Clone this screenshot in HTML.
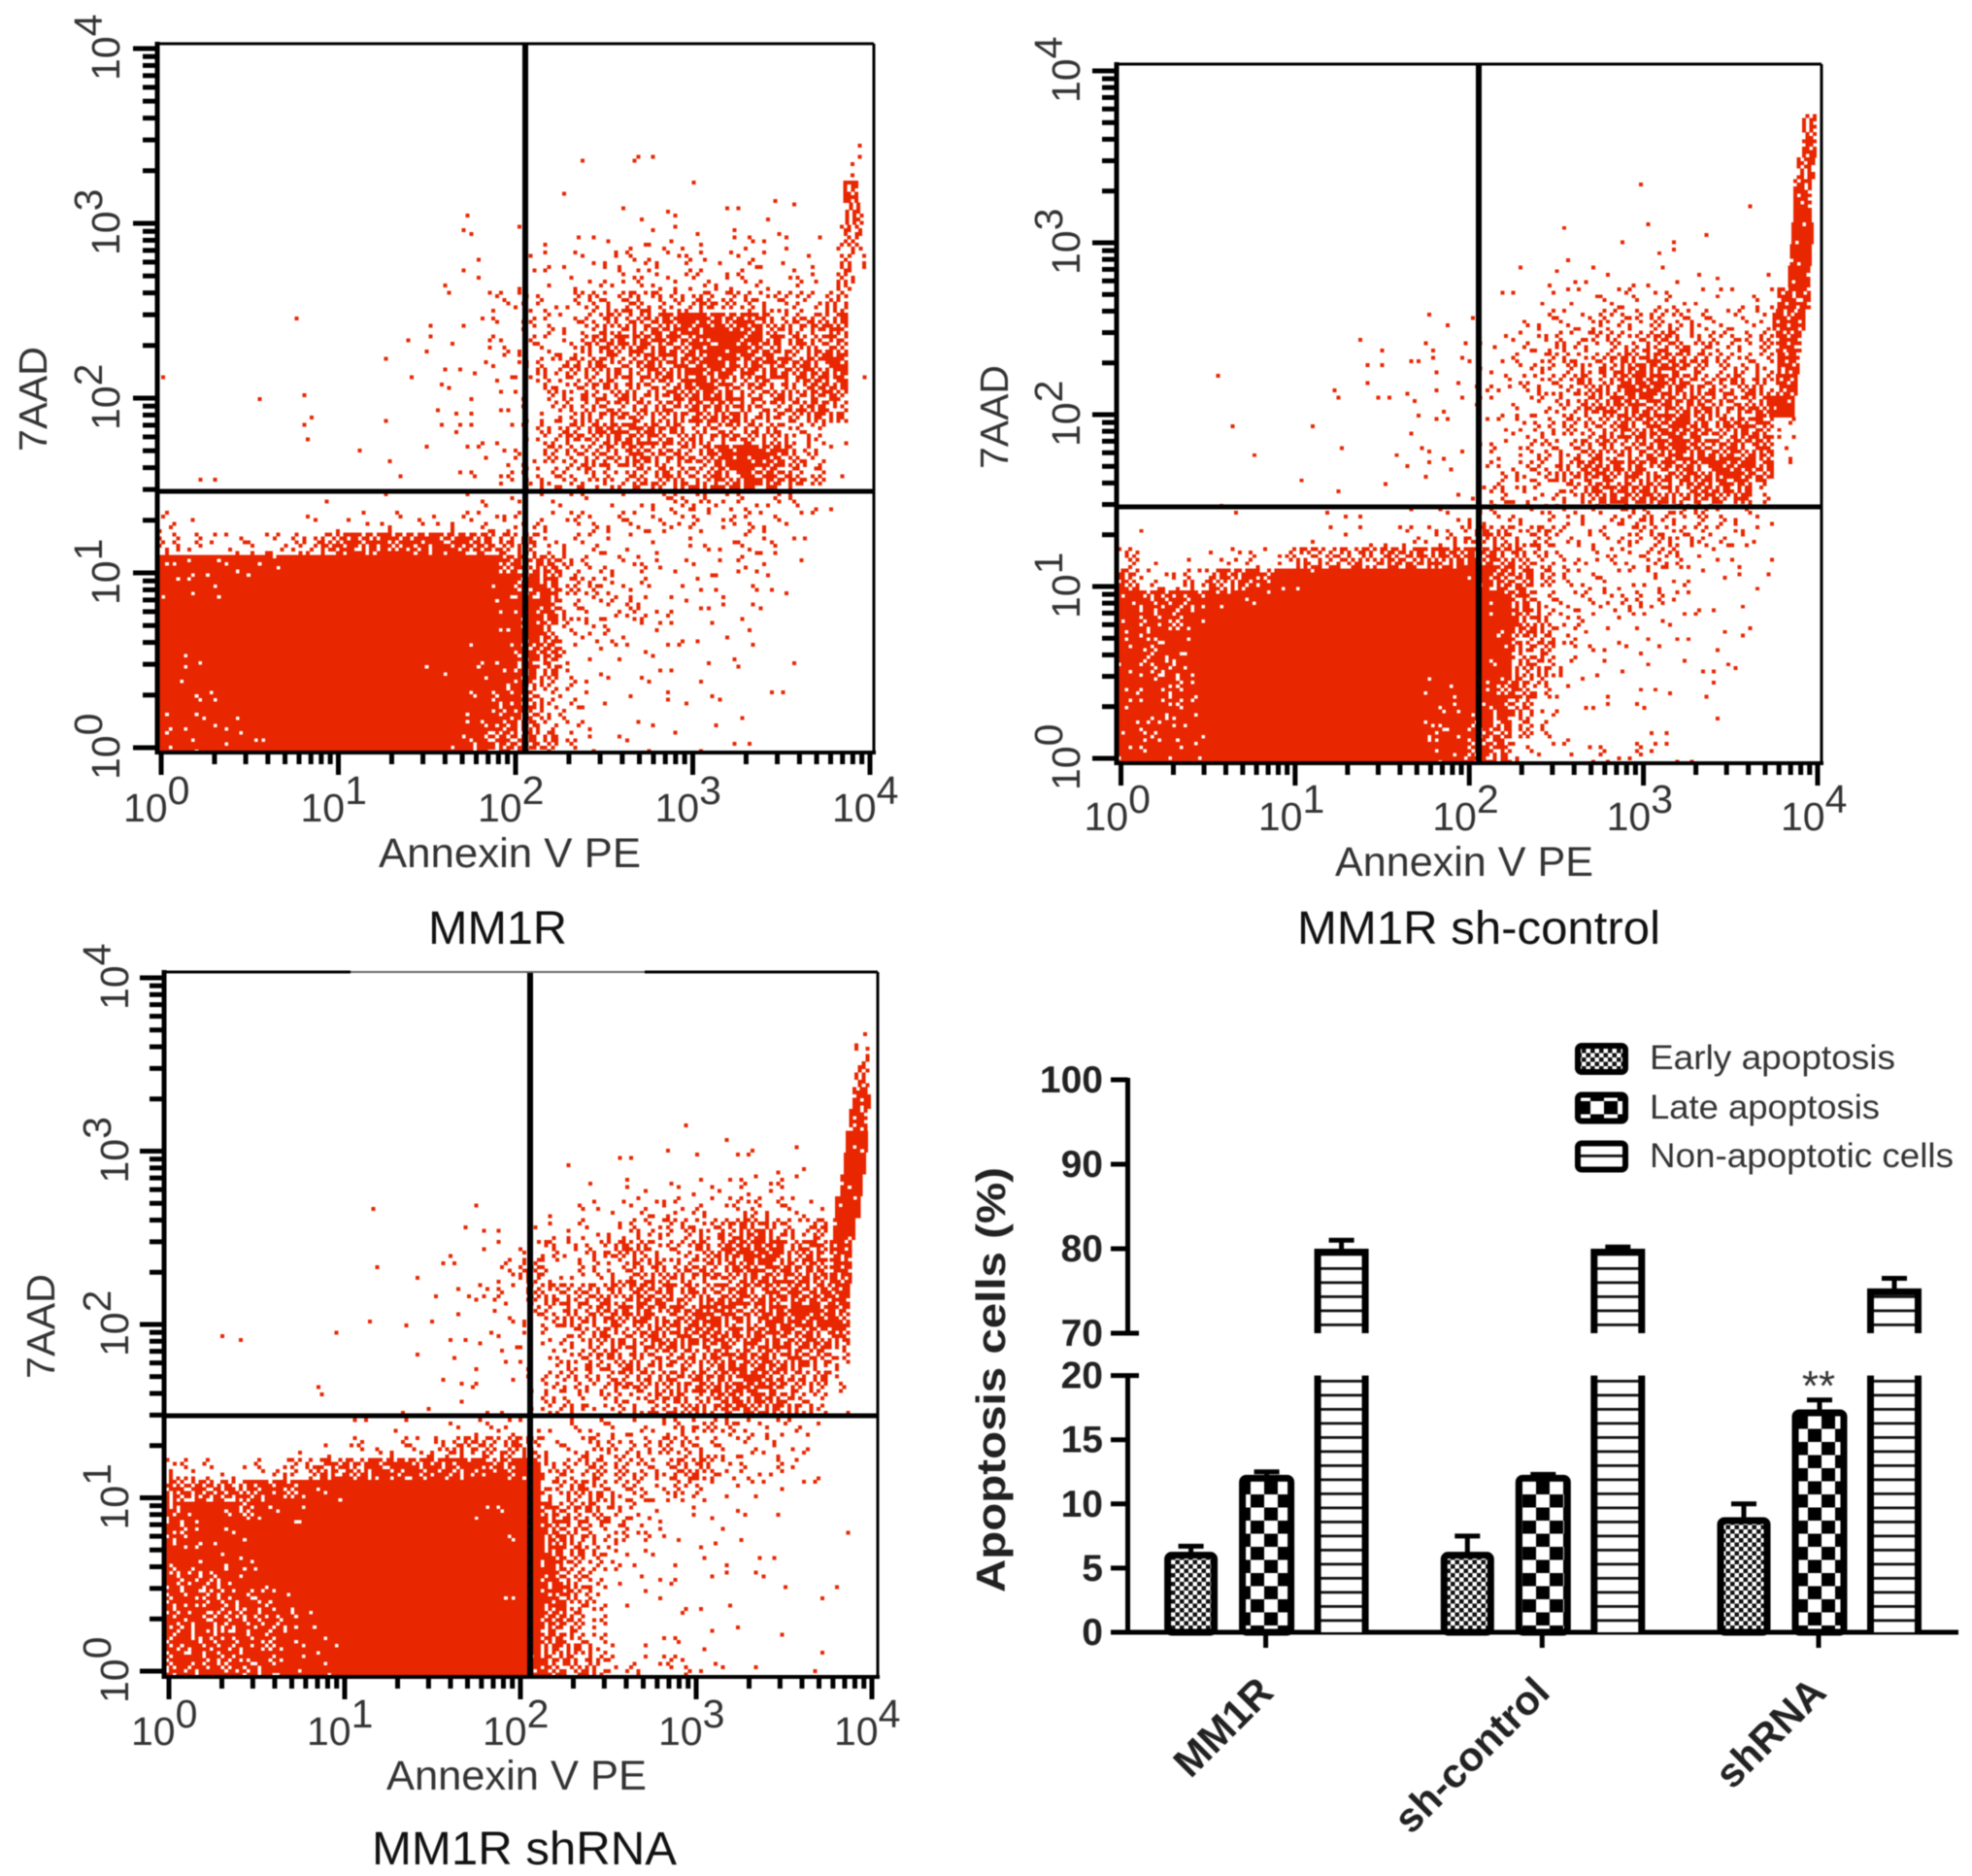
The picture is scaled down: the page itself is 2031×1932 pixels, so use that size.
<!DOCTYPE html>
<html>
<head>
<meta charset="utf-8">
<title>Apoptosis flow cytometry panels</title>
<style>
html,body{margin:0;padding:0;background:#fff;}
svg{display:block;font-family:"Liberation Sans",sans-serif;filter:blur(0.6px);}
</style>
</head>
<body>
<svg id="figure" xmlns="http://www.w3.org/2000/svg" width="2031" height="1932" viewBox="0 0 2031 1932">
  <defs>
    <pattern id="pat-early" patternUnits="userSpaceOnUse" width="9" height="9">
      <rect width="9" height="9" fill="#fff"/>
      <rect width="4.5" height="4.5" fill="#111"/>
      <rect x="4.5" y="4.5" width="4.5" height="4.5" fill="#111"/>
    </pattern>
    <pattern id="pat-late" patternUnits="userSpaceOnUse" width="28" height="27">
      <rect width="28" height="27" fill="#fff"/>
      <rect width="14" height="13.5" fill="#000"/>
      <rect x="14" y="13.5" width="14" height="13.5" fill="#000"/>
    </pattern>
    <pattern id="pat-non" patternUnits="userSpaceOnUse" width="14" height="14.5">
      <rect width="14" height="14.5" fill="#fff"/>
      <rect y="0" width="14" height="2.8" fill="#111"/>
    </pattern>
  </defs>
  <g id="layer-panels"></g>
  <g id="layer-bars"></g>
  <text x="441" y="972" font-size="48" fill="#111" textLength="143" lengthAdjust="spacingAndGlyphs">MM1R</text>
  <text x="1336" y="972" font-size="48" fill="#111" textLength="374" lengthAdjust="spacingAndGlyphs">MM1R sh-control</text>
  <text x="383" y="1920" font-size="48" fill="#111" textLength="314" lengthAdjust="spacingAndGlyphs">MM1R shRNA</text>
</svg>
<script>
/* Scatter values: event density on a 32 x 32 log-log grid
   (row 0 = top of plot, column 0 = left). 0 = empty ... 9 = solid red. */
const panel1Density = [
[0,0,0,0,0,0,0,0,0,0,0,0,0,0,0,0,0,0,0,0,0,0,0,0,0,0,0,0,0,0,0,0],
[0,0,0,0,0,0,0,0,0,0,0,0,0,0,0,0,0,0,0,0,0,0,0,0,0,0,0,0,0,0,0,0],
[0,0,0,0,0,0,0,0,0,0,0,0,0,0,0,0,0,0,0,0,0,0,0,0,0,0,0,0,0,0,0,0],
[0,0,0,0,0,0,0,0,0,0,0,0,0,0,0,0,0,0,0,0,0,0,0,0,0,0,0,0,0,0,0,0],
[0,0,0,0,0,0,0,0,0,0,0,0,0,0,0,0,0,0,0,0,0,1,1,0,0,0,0,0,0,0,0,0],
[0,0,0,0,0,0,0,0,0,0,0,0,0,0,0,0,0,0,0,1,0,1,0,0,0,0,0,0,0,0,0,0],
[0,0,0,0,0,0,0,0,0,0,0,0,0,0,0,0,0,0,1,0,0,0,0,0,1,0,0,1,0,0,0,0],
[0,0,0,0,0,0,0,0,0,0,0,0,0,1,0,0,0,0,0,0,1,1,1,1,0,1,1,1,1,0,0,0],
[0,0,0,0,0,0,0,0,0,0,0,0,0,1,1,0,1,1,1,1,1,1,2,2,2,2,2,2,1,1,0,0],
[0,0,0,0,0,0,0,0,0,0,0,0,0,0,1,0,1,2,2,2,3,3,3,3,2,2,3,2,2,2,0,0],
[0,0,0,0,0,0,0,0,0,0,0,0,1,1,1,0,2,2,2,2,3,3,3,3,3,3,3,2,3,2,0,0],
[0,0,0,0,0,0,0,0,0,0,0,0,0,1,1,3,3,3,3,4,4,5,4,4,5,4,4,4,4,3,5,0],
[0,0,0,0,0,0,1,0,0,0,0,0,1,1,1,2,3,3,3,4,5,5,6,7,7,7,7,5,5,5,6,0],
[0,0,0,0,0,0,0,0,0,0,0,1,2,1,2,3,3,3,3,5,6,6,6,6,7,8,7,6,5,5,6,0],
[1,0,0,0,0,0,0,0,0,0,1,1,1,1,2,2,3,4,5,5,5,5,6,6,7,7,6,6,6,6,7,1],
[0,0,0,0,1,0,1,0,0,0,0,0,1,1,1,2,2,4,4,5,5,5,5,6,7,6,5,5,5,6,6,0],
[0,0,0,0,0,0,1,0,0,0,1,0,1,1,1,2,2,3,4,5,5,5,5,5,6,6,5,5,5,6,5,0],
[0,0,0,0,0,0,2,0,0,0,0,0,1,2,2,2,2,4,5,5,6,6,6,5,5,5,5,5,4,4,1,0],
[0,0,0,0,0,0,0,0,0,1,1,0,1,1,2,2,3,4,4,5,5,6,5,5,5,7,8,7,5,4,1,0],
[0,1,1,0,0,0,0,0,0,0,1,0,0,1,2,3,3,4,4,4,4,5,5,5,5,6,7,6,5,4,1,0],
[0,0,0,0,0,0,0,1,0,0,1,0,0,1,2,1,1,2,2,2,2,2,3,4,4,3,3,3,3,1,1,0],
[3,1,0,0,0,0,1,1,2,2,3,2,2,3,3,3,3,3,3,3,3,3,3,3,3,3,3,3,2,1,0,0],
[4,3,2,3,3,3,4,5,7,6,7,7,7,7,6,5,5,3,3,3,2,2,2,2,2,2,3,3,1,1,0,0],
[8,8,8,8,8,8,9,9,9,9,9,9,9,9,9,7,6,6,4,3,3,3,2,2,2,2,3,2,1,0,0,0],
[8,8,8,9,9,9,9,9,9,9,9,9,9,9,9,8,7,7,4,4,3,3,1,2,2,2,2,1,1,0,0,0],
[9,9,9,9,9,9,9,9,9,9,9,9,9,9,9,8,8,7,4,3,3,4,2,2,2,1,2,1,0,0,0,0],
[9,9,9,9,9,9,9,9,9,9,9,9,9,9,9,8,8,6,3,3,3,1,2,2,2,1,1,0,0,0,0,0],
[9,8,9,9,9,9,9,9,9,9,9,9,9,9,8,8,7,6,3,2,2,2,2,1,1,1,1,0,1,0,0,0],
[9,8,9,9,9,9,9,9,9,9,9,9,8,9,8,8,7,5,3,2,1,1,2,1,1,0,1,0,0,0,0,0],
[9,8,8,9,9,9,9,9,9,9,9,9,9,9,8,7,7,4,3,2,1,1,2,1,1,1,0,1,1,0,0,0],
[8,8,8,8,9,9,9,9,9,9,9,9,9,8,8,7,6,4,3,2,0,1,1,0,0,1,1,0,0,0,0,0],
[8,8,9,8,8,9,9,9,9,9,9,9,9,8,7,6,6,5,3,2,1,1,1,1,1,1,1,0,0,0,0,0]
];
const panel2Density = [
[0,0,0,0,0,0,0,0,0,0,0,0,0,0,0,0,0,0,0,0,0,0,0,0,0,0,0,0,0,0,0,0],
[0,0,0,0,0,0,0,0,0,0,0,0,0,0,0,0,0,0,0,0,0,0,0,0,0,0,0,0,0,0,0,0],
[0,0,0,0,0,0,0,0,0,0,0,0,0,0,0,0,0,0,0,0,0,0,0,0,0,0,0,0,0,0,0,0],
[0,0,0,0,0,0,0,0,0,0,0,0,0,0,0,0,0,0,0,0,0,0,0,0,0,0,0,0,0,0,0,0],
[0,0,0,0,0,0,0,0,0,0,0,0,0,0,0,0,0,0,0,0,0,0,0,0,0,0,0,0,0,0,0,0],
[0,0,0,0,0,0,0,0,0,0,0,0,0,0,0,0,0,0,0,0,0,0,0,1,0,0,0,0,0,0,0,0],
[0,0,0,0,0,0,0,0,0,0,0,0,0,0,0,0,0,0,0,0,0,0,0,0,0,0,0,0,1,0,0,0],
[0,0,0,0,0,0,0,0,0,0,0,0,0,0,0,0,0,0,0,0,1,0,0,1,1,1,1,0,0,0,0,0],
[0,0,0,0,0,0,0,0,0,0,0,0,0,0,0,0,0,0,0,0,1,0,0,0,1,1,0,0,0,0,0,0],
[0,0,0,0,0,0,0,0,0,0,0,0,0,0,0,0,0,0,1,1,2,2,1,1,2,1,1,1,0,1,0,0],
[0,0,0,0,0,0,0,0,0,0,0,0,0,0,0,0,0,1,1,2,2,2,3,3,2,3,2,2,2,3,0,0],
[0,0,0,0,0,0,0,0,0,0,0,0,0,0,1,1,1,0,2,3,3,3,4,4,4,4,4,3,3,3,0,0],
[0,0,0,0,0,0,0,0,0,0,0,1,1,0,2,1,1,2,3,3,4,4,4,4,5,5,4,4,4,4,0,0],
[0,0,0,0,0,0,0,0,0,0,0,1,1,2,2,1,2,2,3,4,4,4,5,6,6,6,5,4,4,4,0,0],
[0,0,0,0,1,0,0,0,0,1,0,1,0,1,1,1,2,3,3,4,4,5,5,7,7,6,5,5,5,5,0,0],
[0,0,0,0,0,0,0,0,0,0,1,1,1,2,1,1,2,2,3,3,4,5,6,6,6,6,6,5,5,6,0,0],
[0,0,0,0,0,1,0,0,1,0,0,0,0,1,1,1,1,2,3,4,4,4,5,6,6,7,6,5,6,6,3,0],
[0,0,0,0,0,0,1,0,0,0,1,0,1,1,2,1,1,3,3,4,4,5,5,5,6,7,6,6,6,6,2,0],
[0,0,0,0,0,0,0,0,1,0,0,0,0,1,2,1,1,3,4,4,5,6,6,6,5,6,6,7,7,6,1,0],
[0,0,0,0,0,0,0,0,0,0,1,0,1,0,0,1,2,4,3,3,4,5,6,6,6,5,6,6,6,3,0,0],
[0,0,0,0,1,1,0,0,0,1,1,1,0,1,1,2,3,3,3,3,3,3,3,4,4,4,4,3,3,2,0,0],
[0,1,0,0,0,0,0,0,1,1,1,2,2,3,3,4,5,5,4,5,3,3,3,4,4,4,4,3,3,2,0,0],
[4,1,0,1,2,3,3,3,5,5,5,5,6,6,6,6,7,6,5,4,3,3,3,3,4,4,2,2,2,1,0,0],
[6,3,3,4,6,6,7,8,8,9,9,9,9,9,9,9,8,6,6,4,3,3,3,2,3,2,2,1,1,2,0,0],
[8,7,7,7,8,8,8,9,9,9,9,9,9,9,9,9,9,8,6,4,3,3,3,4,3,2,2,1,1,0,0,0],
[8,7,7,8,9,9,9,9,9,9,9,9,9,9,9,9,9,8,6,5,3,3,2,2,2,2,1,1,1,0,0,0],
[8,7,8,8,9,9,9,9,9,9,9,9,9,9,9,9,9,8,5,5,3,2,2,2,2,1,1,1,1,0,0,0],
[8,7,7,8,9,9,9,9,9,9,9,9,9,9,9,9,9,8,5,5,3,1,1,1,1,1,1,2,1,0,0,0],
[8,8,7,8,9,9,9,9,9,9,9,9,9,9,8,8,8,7,6,4,2,1,1,1,1,1,1,1,0,0,0,0],
[8,8,7,8,9,9,9,9,9,9,9,9,9,9,8,8,8,7,5,2,1,2,1,1,1,0,0,1,0,0,0,0],
[8,7,8,8,9,9,9,9,9,9,9,9,9,9,7,8,7,6,4,3,1,0,0,0,1,1,0,0,0,0,0,0],
[8,8,8,8,9,9,9,9,9,9,9,9,9,9,8,8,7,6,3,2,2,2,3,3,2,2,1,0,0,0,0,0]
];
const panel3Density = [
[0,0,0,0,0,0,0,0,0,0,0,0,0,0,0,0,0,0,0,0,0,0,0,0,0,0,0,0,0,0,0,0],
[0,0,0,0,0,0,0,0,0,0,0,0,0,0,0,0,0,0,0,0,0,0,0,0,0,0,0,0,0,0,0,0],
[0,0,0,0,0,0,0,0,0,0,0,0,0,0,0,0,0,0,0,0,0,0,0,0,0,0,0,0,0,0,0,0],
[0,0,0,0,0,0,0,0,0,0,0,0,0,0,0,0,0,0,0,0,0,0,0,0,0,0,0,0,0,0,0,0],
[0,0,0,0,0,0,0,0,0,0,0,0,0,0,0,0,0,0,0,0,0,0,0,0,0,0,0,0,0,0,0,0],
[0,0,0,0,0,0,0,0,0,0,0,0,0,0,0,0,0,0,0,0,0,0,0,0,0,0,0,0,0,0,0,0],
[0,0,0,0,0,0,0,0,0,0,0,0,0,0,0,0,0,0,0,0,0,0,0,1,0,0,0,0,0,0,0,0],
[0,0,0,0,0,0,0,0,0,0,0,0,0,0,0,0,0,0,0,0,0,0,1,0,0,1,1,0,1,0,0,0],
[0,0,0,0,0,0,0,0,0,0,0,0,0,0,0,0,0,0,1,0,1,1,0,0,1,1,1,1,1,0,0,0],
[0,0,0,0,0,0,0,0,0,0,0,0,0,0,0,0,0,0,0,1,2,1,1,2,2,2,3,3,1,0,0,0],
[0,0,0,0,0,0,0,0,0,1,0,0,0,0,1,0,0,1,2,2,2,3,3,3,3,3,4,3,3,2,0,0],
[0,0,0,0,0,0,0,0,0,0,0,0,0,1,1,1,1,2,3,2,3,4,4,4,4,5,6,5,4,5,0,0],
[0,0,0,0,0,0,0,0,0,0,0,0,1,0,1,2,3,4,3,4,5,5,4,4,5,6,7,7,5,6,0,0],
[0,0,0,0,0,0,0,0,0,1,0,1,1,1,0,3,5,3,3,3,4,5,5,5,5,5,6,6,6,6,0,0],
[0,0,0,0,0,0,0,0,0,0,0,0,1,2,3,3,4,5,5,5,5,6,6,5,5,6,6,6,6,6,7,0],
[0,0,0,0,0,0,0,0,0,1,1,0,1,1,1,2,3,4,5,5,6,6,5,6,7,6,5,7,7,7,7,0],
[0,0,1,1,0,0,0,1,0,0,0,0,1,1,2,2,2,3,4,5,5,5,6,6,6,6,6,6,6,6,6,0],
[0,0,0,0,0,0,0,0,0,0,0,1,0,1,1,2,2,3,4,5,5,5,5,5,5,6,6,6,6,5,4,0],
[0,0,0,0,0,0,1,0,0,0,0,0,1,2,1,1,2,4,4,4,5,5,5,5,6,6,7,6,5,5,3,0],
[0,0,0,0,0,0,0,1,0,0,1,1,0,1,1,1,1,4,4,3,4,4,5,5,5,6,6,6,5,4,1,0],
[0,0,0,0,0,0,0,0,1,1,2,1,2,2,3,3,2,2,3,3,3,3,3,4,4,4,3,3,3,2,0,0],
[0,0,0,0,0,0,1,2,3,2,3,3,4,5,5,5,5,3,3,4,4,4,4,4,4,3,3,3,2,1,0,0],
[4,3,2,2,3,4,4,6,6,7,7,7,7,7,7,7,8,4,4,5,4,4,4,5,5,3,3,3,2,1,0,0],
[6,6,6,6,7,7,8,8,9,9,9,9,9,9,9,9,9,4,5,5,4,4,3,4,3,2,2,2,1,1,0,0],
[7,8,8,7,8,8,8,9,9,9,9,9,9,9,8,8,9,6,5,5,4,3,2,2,1,1,1,1,0,0,0,0],
[7,8,8,8,9,9,9,9,9,9,9,9,9,9,9,8,9,6,5,4,4,3,2,1,1,1,1,0,0,0,1,0],
[8,8,8,8,9,9,9,9,9,9,9,9,9,9,9,9,9,7,5,4,3,2,1,1,2,1,1,1,0,0,0,0],
[7,7,7,8,8,9,9,9,9,9,9,9,9,9,9,9,9,7,5,4,2,1,2,1,1,1,1,1,1,0,1,0],
[7,7,7,7,7,8,9,9,9,9,9,9,9,9,9,8,9,7,5,4,1,1,1,1,1,1,0,0,0,1,0,0],
[7,7,6,7,7,7,8,9,9,9,9,9,9,9,9,9,9,6,5,3,0,0,0,1,1,1,0,0,0,0,0,0],
[7,7,7,7,7,8,8,8,9,9,9,9,9,9,9,9,9,6,5,4,1,1,1,2,1,0,0,1,0,1,0,0],
[7,7,7,7,7,8,8,8,9,9,9,9,9,9,9,9,8,6,5,5,3,3,3,3,2,1,1,0,0,1,0,0]
];

/* High-fluorescence tail at the right edge, one entry per grid row:
   row index, left and right edge (decades of Annexin V), density level. */
const panel1TailRows = [2, 3, 4, 5, 6, 7, 8, 9, 10];
const panel1TailStart = [3.89, 3.90, 3.89, 3.87, 3.85, 3.86, 3.83, 3.81, 3.81];
const panel1TailEnd = [3.94, 3.97, 3.97, 3.96, 3.94, 3.96, 3.96, 3.98, 3.92];
const panel1TailLevel = [1, 2, 2, 2, 7, 6, 5, 4, 5];

const panel2TailRows = [2, 3, 4, 5, 6, 7, 8, 9, 10, 11, 12, 13, 14, 15];
const panel2TailStart = [3.91, 3.91, 3.88, 3.86, 3.86, 3.85, 3.84, 3.83, 3.77, 3.74, 3.76, 3.77, 3.76, 3.72];
const panel2TailEnd = [3.99, 4.0, 3.99, 3.97, 3.97, 3.97, 3.96, 3.95, 3.95, 3.93, 3.91, 3.90, 3.88, 3.87];
const panel2TailLevel = [6, 7, 6, 7, 8, 8, 8, 8, 7, 7, 7, 7, 7, 8];

const panel3TailRows = [2, 3, 4, 5, 6, 7, 8, 9, 10, 11, 12, 13];
const panel3TailStart = [3.95, 3.90, 3.90, 3.89, 3.87, 3.85, 3.84, 3.82, 3.79, 3.78, 3.76, 3.76];
const panel3TailEnd = [3.99, 3.99, 3.99, 3.99, 3.98, 3.97, 3.96, 3.95, 3.93, 3.90, 3.89, 3.88];
const panel3TailLevel = [1, 4, 6, 7, 7, 8, 9, 8, 8, 8, 7, 7];

const decadeTicks = [0, 1, 2, 3, 4];
const minorMultipliers = [2, 3, 4, 5, 6, 7, 8, 9];

/* Bar chart values */
const barCategories = ['MM1R', 'sh-control', 'shRNA'];
const earlyValues = [6, 6, 8.7];
const earlyErrors = [6.7, 7.5, 10];
const lateValues = [12, 12, 17.1];
const lateErrors = [12.5, 12.3, 18.1];
const nonValues = [79.6, 79.6, 74.9];
const nonErrors = [81, 80.2, 76.5];
const lowerTicks = [0, 5, 10, 15, 20];
const upperTicks = [70, 80, 90, 100];
const legendLabels = ['Early apoptosis', 'Late apoptosis', 'Non-apoptotic cells'];

const RED = '#e82600';
const TEXT = '#333';
const NS = 'http://www.w3.org/2000/svg';
const dotsPerLevel = [0, 1, 2, 5, 10, 16, 22, 28, 34, 36];
const ditherOrder = [14,3,28,21,8,33,0,17,25,10,31,5,19,35,12,27,2,22,7,30,15,34,9,24,1,20,29,6,13,32,18,4,26,11,23,16];

function make(tag, attrs, parent) {
  const el = document.createElementNS(NS, tag);
  for (const k in attrs) el.setAttribute(k, attrs[k]);
  parent.appendChild(el);
  return el;
}

const panels = [
  {id:'mm1r', density:panel1Density, tailRows:panel1TailRows, tailStart:panel1TailStart, tailEnd:panel1TailEnd, tailLevel:panel1TailLevel,
   L:163, R:900, T:45, B:775, x0:166, x4:896, y0:770, y4:50, gx:541, gy:506,
   xTitle:[390,893,270], yTitle:[48,465,108], lblX:-39, lblB:846, lblYx:123, faintTop:false},
  {id:'sh-control', density:panel2Density, tailRows:panel2TailRows, tailStart:panel2TailStart, tailEnd:panel2TailEnd, tailLevel:panel2TailLevel,
   L:1151, R:1876, T:66, B:786, x0:1154.5, x4:1872, y0:781, y4:73, gx:1523, gy:522,
   xTitle:[1375,902,266], yTitle:[1038,483,107], lblX:-38, lblB:855, lblYx:1112, faintTop:false},
  {id:'shrna', density:panel3Density, tailRows:panel3TailRows, tailStart:panel3TailStart, tailEnd:panel3TailEnd, tailLevel:panel3TailLevel,
   L:170, R:904, T:1001, B:1727, x0:174, x4:898, y0:1721, y4:1007, gx:546, gy:1458,
   xTitle:[398,1843,268], yTitle:[56,1420,108], lblX:-39, lblB:1797, lblYx:132, faintTop:true}
];

function drawPanel(p, idx) {
  const root = document.getElementById('layer-panels');
  const g = make('g', {}, root);
  
  

  const xScale = d => p.x0 + (d / 4) * (p.x4 - p.x0);
  const yScale = d => p.y0 + (d / 4) * (p.y4 - p.y0);

  const clipId = 'clip-' + p.id;
  const defs = make('clipPath', {id: clipId}, g);
  make('rect', {x: p.L, y: p.T, width: p.R - p.L, height: p.B - p.T}, defs);

  const scatter = make('g', {'clip-path': 'url(#' + clipId + ')', fill: RED, 'shape-rendering': 'crispEdges'}, g);
  
  

  const rows = p.density.length, cols = p.density[0].length;
  const xMin = -0.02, yMin = -0.03;
  const cw = (4 - xMin) / cols, ch = (4 - yMin) / rows;
  const sub = 6;
  const binPath = (sx, sy, bw, bh) => 'M' + sx.toFixed(1) + ' ' + sy.toFixed(1) + 'h' + (bw + .2).toFixed(2) + 'v' + (bh + .2).toFixed(2) + 'h-' + (bw + .2).toFixed(2) + 'z';
  p.density.forEach((row, r) => {
    row.forEach((level, c) => {
      if (level <= 0) return;
      const left = xScale(xMin + c * cw);
      const right = xScale(xMin + (c + 1) * cw);
      const bottom = yScale(yMin + (rows - 1 - r) * ch);
      const top = yScale(yMin + (rows - r) * ch);
      const bw = (right - left) / sub, bh = (bottom - top) / sub;
      const count = dotsPerLevel[Math.min(9, Math.round(level))];
      const start = (c * 5 + r * 11 + idx * 7) % 36;
      let d = '';
      for (let i = 0; i < count; i++) {
        const cell = ditherOrder[(start + i) % 36];
        d += binPath(left + (cell % sub) * bw, top + Math.floor(cell / sub) * bh, bw, bh);
      }
      const cellPath = make('path', {d: d}, scatter);
      
      
    });
  });

  // right-edge tail of high-fluorescence events
  p.tailRows.forEach((r, i) => {
    const bw = ((p.x4 - p.x0) / 4 * cw) / sub;
    const top = yScale(yMin + (rows - r) * ch);
    const bottom = yScale(yMin + (rows - 1 - r) * ch);
    const bh = (bottom - top) / sub;
    const left = xScale(p.tailStart[i]);
    const n = Math.max(1, Math.round((xScale(p.tailEnd[i]) - left) / bw));
    const limit = dotsPerLevel[p.tailLevel[i]];
    let d = '';
    for (let sy = 0; sy < sub; sy++) {
      for (let sx = 0; sx < n; sx++) {
        const order = ditherOrder[(sy * 6 + (sx % 6) + r * 7 + idx * 5) % 36];
        if (order < limit) d += binPath(left + sx * bw, top + sy * bh, bw, bh);
      }
    }
    const tailPath = make('path', {d: d}, scatter);
    
    
  });

  // gates
  const vGate = make('line', {x1: p.gx, x2: p.gx, y1: p.T, y2: p.B, stroke: '#000', 'stroke-width': 6}, g);
  
  
  const hGate = make('line', {x1: p.L, x2: p.R, y1: p.gy, y2: p.gy, stroke: '#000', 'stroke-width': 5}, g);
  
  

  // frame
  const frame = make('g', {stroke: '#000', fill: 'none'}, g);
  
  
  if (p.faintTop) {
    make('line', {x1: p.L, x2: 361, y1: p.T, y2: p.T, 'stroke-width': 3}, frame);
    make('line', {x1: 361, x2: 664, y1: p.T, y2: p.T, 'stroke-width': 2, stroke: '#666'}, frame);
    make('line', {x1: 664, x2: p.R, y1: p.T, y2: p.T, 'stroke-width': 3}, frame);
  } else {
    make('line', {x1: p.L, x2: p.R, y1: p.T, y2: p.T, 'stroke-width': 3}, frame);
  }
  make('line', {x1: p.R, x2: p.R, y1: p.T, y2: p.B, 'stroke-width': 3}, frame);
  make('line', {x1: p.L - 1, x2: p.L - 1, y1: p.T - 2, y2: p.B + 2, 'stroke-width': 5}, frame);
  make('line', {x1: p.L - 3, x2: p.R + 2, y1: p.B, y2: p.B, 'stroke-width': 4}, frame);

  // ticks
  const xAxis = make('g', {stroke: '#000', 'stroke-width': 5}, g);
  
  
  const yAxis = make('g', {stroke: '#000', 'stroke-width': 5}, g);
  
  
  decadeTicks.forEach(d => {
    make('line', {x1: xScale(d), x2: xScale(d), y1: p.B, y2: p.B + 23}, xAxis);
    make('line', {x1: p.L - 2, x2: p.L - 26, y1: yScale(d), y2: yScale(d)}, yAxis);
    if (d < 4) {
      minorMultipliers.forEach(m => {
        const v = d + Math.log10(m);
        make('line', {x1: xScale(v), x2: xScale(v), y1: p.B, y2: p.B + 12}, xAxis);
        make('line', {x1: p.L - 2, x2: p.L - 16, y1: yScale(v), y2: yScale(v)}, yAxis);
      });
    }
  });

  // tick labels
  decadeTicks.forEach(d => {
    const tx = make('text', {x: xScale(d) + p.lblX, y: p.lblB, 'font-size': 41, fill: TEXT}, g);
    
    
    tx.textContent = '10';
    const sx = make('tspan', {dy: -18}, tx);
    sx.textContent = String(d);

    const ty = make('text', {transform: 'translate(' + p.lblYx + ' ' + (yScale(d) + 33) + ') rotate(-90)', 'font-size': 41, fill: TEXT}, g);
    
    
    ty.textContent = '10';
    const sy = make('tspan', {dy: -18}, ty);
    sy.textContent = String(d);
  });

  // titles
  const xt = make('text', {x: p.xTitle[0], y: p.xTitle[1], 'font-size': 43, fill: TEXT, textLength: p.xTitle[2], lengthAdjust: 'spacingAndGlyphs'}, g);
  
  
  xt.textContent = 'Annexin V PE';
  const yt = make('text', {transform: 'translate(' + p.yTitle[0] + ' ' + p.yTitle[1] + ') rotate(-90)', 'font-size': 41, fill: TEXT, textLength: p.yTitle[2], lengthAdjust: 'spacingAndGlyphs'}, g);
  
  
  yt.textContent = '7AAD';
}
panels.forEach(drawPanel);

/* ---- bar chart ---- */
(function () {
  const root = document.getElementById('layer-bars');
  const AX = 1161.5, Y0 = 1681, Y20 = 1416.6, Y70 = 1373, Y100 = 1112;
  const yBar = v => v <= 20 ? Y0 + (v / 20) * (Y20 - Y0) : Y70 + ((v - 70) / 30) * (Y100 - Y70);
  const groupCenter = i => 1303.6 + i * 284.7;
  const barOffset = {early: -77, late: 1, non: 78};
  const barWidth = {early: 48, late: 50, non: 49};

  const axes = make('g', {stroke: '#000', 'stroke-width': 5, fill: 'none'}, root);
  
  
  make('line', {x1: AX, x2: AX, y1: yBar(100) - 2, y2: yBar(70)}, axes);
  make('line', {x1: AX, x2: AX, y1: yBar(20), y2: yBar(0)}, axes);
  make('line', {x1: 1144, x2: 2017, y1: yBar(0), y2: yBar(0)}, axes);

  const allTicks = lowerTicks.concat(upperTicks);
  allTicks.forEach(v => {
    const stub = (v === 70 || v === 20) ? 1173 : AX;
    make('line', {x1: 1144, x2: stub, y1: yBar(v), y2: yBar(v)}, axes);
    const label = make('text', {x: 1136, y: yBar(v) + 13, 'font-size': 39, 'font-weight': 'bold', fill: '#222', 'text-anchor': 'end'}, root);
    
    
    label.textContent = String(v);
  });

  function drawBar(cx, v, err, pat, name, w) {
    const g = make('g', {stroke: '#000', 'stroke-width': 7}, root);
    
    
    const errLine = make('line', {x1: cx, x2: cx, y1: yBar(v), y2: yBar(err), 'stroke-width': 5}, g);
    
    
    const errCap = make('line', {x1: cx - 13, x2: cx + 13, y1: yBar(err), y2: yBar(err), 'stroke-width': 5}, g);
    
    
    if (v <= 20) {
      make('rect', {x: cx - w / 2, y: yBar(v), width: w, height: yBar(0) - yBar(v), fill: 'url(#' + pat + ')', rx: 4}, g);
    } else {
      make('rect', {x: cx - w / 2, y: yBar(20), width: w, height: yBar(0) - yBar(20), fill: 'url(#' + pat + ')', stroke: 'none'}, g);
      make('path', {d: 'M' + (cx - w / 2) + ' ' + yBar(20) + 'V' + yBar(0) + 'M' + (cx + w / 2) + ' ' + yBar(20) + 'V' + yBar(0), fill: 'none'}, g);
      make('rect', {x: cx - w / 2, y: yBar(v), width: w, height: yBar(70) - yBar(v), fill: 'url(#' + pat + ')', stroke: 'none'}, g);
      make('path', {d: 'M' + (cx - w / 2) + ' ' + yBar(70) + 'V' + yBar(v) + 'H' + (cx + w / 2) + 'V' + yBar(70), fill: 'none'}, g);
    }
  }

  barCategories.forEach((cat, i) => {
    const c = groupCenter(i);
    drawBar(c + barOffset.early, earlyValues[i], earlyErrors[i], 'pat-early', 'bar-early-' + cat, barWidth.early);
    drawBar(c + barOffset.late, lateValues[i], lateErrors[i], 'pat-late', 'bar-late-' + cat, barWidth.late);
    drawBar(c + barOffset.non, nonValues[i], nonErrors[i], 'pat-non', 'bar-non-' + cat, barWidth.non);

    const tick = make('line', {x1: c, x2: c, y1: yBar(0), y2: yBar(0) + 16, stroke: '#000', 'stroke-width': 5}, root);
    
    

    const lab = make('text', {transform: 'translate(' + (c + 10) + ' 1745) rotate(-45)', 'font-size': 42, 'font-weight': 'bold', fill: '#222', 'text-anchor': 'end'}, root);
    
    
    lab.textContent = cat;
  });

  const star = make('text', {x: groupCenter(2), y: 1442, 'font-size': 44, fill: TEXT, 'text-anchor': 'middle'}, root);
  
  
  star.textContent = '**';

  const yTitle = make('text', {transform: 'translate(1035 1640) rotate(-90)', 'font-size': 42, 'font-weight': 'bold', fill: '#222', textLength: 438, lengthAdjust: 'spacingAndGlyphs'}, root);
  
  
  yTitle.textContent = 'Apoptosis cells (%)';

  const swatchY = [1075, 1125.5, 1175.5];
  const swatchPat = ['pat-early', 'pat-late', 'pat-non'];
  const textBase = [1101, 1152, 1202];
  const textLen = [253, 237, 313];
  legendLabels.forEach((t, i) => {
    const entry = make('g', {}, root);
    
    
    const sw = make('rect', {x: 1625, y: swatchY[i] + 2, width: 49, height: 27, rx: 4, fill: 'url(#' + swatchPat[i] + ')', stroke: '#000', 'stroke-width': 6}, entry);
    
    
    const lbl = make('text', {x: 1699, y: textBase[i], 'font-size': 35, fill: TEXT, textLength: textLen[i], lengthAdjust: 'spacingAndGlyphs'}, entry);
    
    
    lbl.textContent = t;
  });
})();
</script>
</body>
</html>
